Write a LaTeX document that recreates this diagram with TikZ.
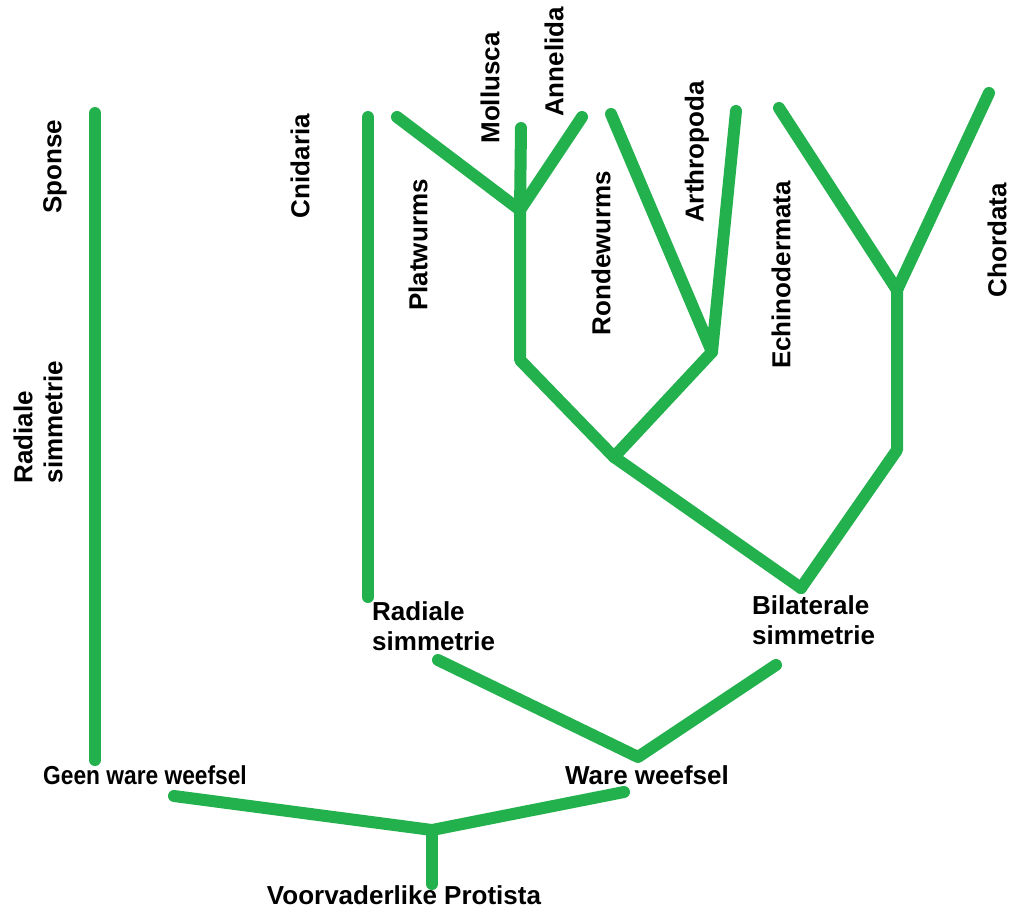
\documentclass[tikz,border=0pt]{standalone}
\usepackage{fontspec}
\setmainfont{Liberation Sans}
\usepackage{tikz}

\begin{document}
\begin{tikzpicture}[x=1pt, y=-1pt,
branch/.style = {draw = treegreen, line width = 12pt, line cap = round, line join = round},
taxon/.style = {rotate = 90, inner sep = 0pt, font = \fontsize{26}{30}\selectfont\bfseries},
group/.style = {inner sep = 0pt, align = left, font = \fontsize{26}{30}\selectfont\bfseries},
]
\definecolor{treegreen}{RGB}{34,177,76}
\path[use as bounding box] (0,0) rectangle (1011,911);

\node[taxon] (sponse) at (55,167) {Sponse};
\node[taxon, align = left] (radtop) at (38,422) {Radiale\\simmetrie};
\node[taxon] (cnidaria) at (300,166) {Cnidaria};
\node[taxon] (platwurms) at (418,245) {Platwurms};
\node[taxon] (mollusca) at (490,88) {Mollusca};
\node[taxon] (annelida) at (554,62) {Annelida};
\node[taxon] (rondewurms) at (601,253) {Rondewurms};
\node[taxon] (arthropoda) at (697,152) {Arthropoda};
\node[taxon] (echino) at (781,275) {Echinodermata};
\node[taxon] (chordata) at (997,240) {Chordata};

\node[group, anchor = north west] (radiaal) at (372,601) {Radiale\\simmetrie};
\node[group, anchor = north west] (bilateraal) at (752,595) {Bilaterale\\simmetrie};
\node[group] (ware) at (647,775) {Ware weefsel};
\node[group] (geenware) at (145,775) {\scalebox{0.875}[1]{Geen ware weefsel}};
\node[group] (protista) at (404,895) {Voorvaderlike Protista};

\coordinate (sponsetop) at (95,113);
\coordinate (sponsebot) at (95,760);
\coordinate (cnitop) at (368,117);
\coordinate (cnibot) at (368,597);
\coordinate (plattop) at (397,117);
\coordinate (moltop) at (521,128);
\coordinate (anntop) at (582,117);
\coordinate (molj) at (520,210);
\coordinate (molbend) at (520,360);
\coordinate (rondtop) at (611,114);
\coordinate (arthtop) at (736,111);
\coordinate (arthj) at (712,352);
\coordinate (protj) at (614,457);
\coordinate (echtop) at (779,108);
\coordinate (chortop) at (989,93);
\coordinate (chorj) at (897,290);
\coordinate (chorbend) at (897,450);
\coordinate (bilj) at (801,588);
\coordinate (radend) at (438,660);
\coordinate (bilend) at (776,665);
\coordinate (warej) at (638,757);
\coordinate (geenend) at (174,796);
\coordinate (wareend) at (624,792);
\coordinate (rootj) at (432,830);
\coordinate (rootbot) at (432,884);

\path[branch] (sponsetop) -- (sponsebot);
\path[branch] (cnitop) -- (cnibot);
\path[branch] (plattop) -- (molj) -- (anntop);
\path[branch] (moltop) -- (molj) -- (molbend) -- (protj);
\path[branch] (rondtop) -- (arthj) -- (arthtop);
\path[branch] (arthj) -- (protj) -- (bilj);
\path[branch] (echtop) -- (chorj) -- (chortop);
\path[branch] (chorj) -- (chorbend) -- (bilj);
\path[branch] (radend) -- (warej) -- (bilend);
\path[branch] (geenend) -- (rootj) -- (wareend);
\path[branch] (rootj) -- (rootbot);
\end{tikzpicture}
\end{document}
